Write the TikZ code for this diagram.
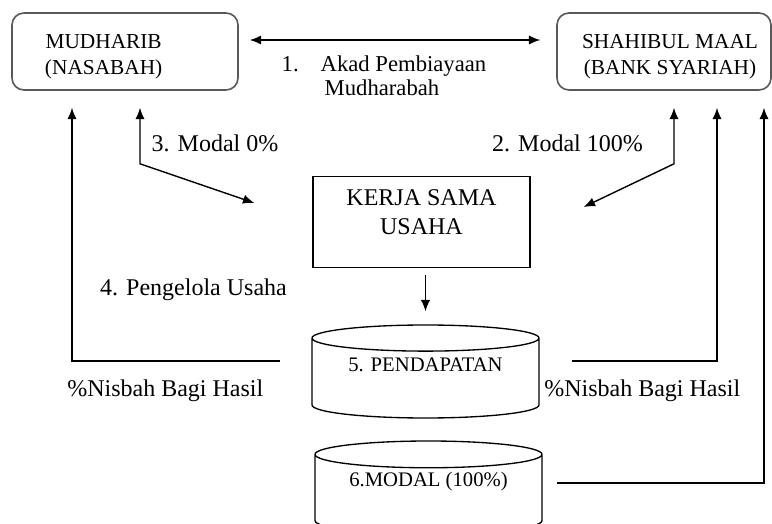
\documentclass[tikz,border=0pt]{standalone}
\usepackage{fontspec}
\setmainfont{Liberation Serif}
\usetikzlibrary{arrows.meta,calc,shapes.geometric,positioning}

\begin{document}
\begin{tikzpicture}[
      x=0.75pt, y=-0.75pt,
      >={Latex[length=8.5pt,width=7pt]},
      party/.style={
        draw=black!65,
        line width=1.2pt,
        rounded corners=9pt,
        minimum height=57.75pt
      },
      usaha/.style={
        draw,
        line width=1pt,
        minimum width=162.75pt,
        minimum height=68.25pt
      },
      dbase/.style={
        draw,
        cylinder,
        shape border rotate=90,
        aspect=0.16,
        line width=1pt,
        minimum width=170.25pt,
        minimum height=69.75pt,
        anchor=shape center,
        font=\fontsize{15.5}{19}\selectfont
      },
      flow/.style={
        ->,
        line width=1.05pt
      },
      lbl/.style={font=\fontsize{18}{22}\selectfont},
      boxtext/.style={font=\fontsize{16}{20}\selectfont, align=center}
    ]
    \useasboundingbox (0,0) rectangle (772,524);
    \clip (0,0) rectangle (772,524);
    %% Parties
    \node[party, minimum width=169.5pt,
      label={[boxtext, xshift=-16pt, yshift=-4pt]center:MUDHARIB\\(NASABAH)}] (mudharib) at (125,51.5) {};
    \node[party, minimum width=160.5pt,
      label={[boxtext, xshift=4.5pt, yshift=-4pt]center:SHAHIBUL MAAL\\(BANK SYARIAH)}] (shahibul) at (664,51.5) {};
    %% Business
    \node[usaha,
      label={[lbl, align=center, yshift=7.5pt]center:KERJA SAMA\\USAHA}] (usaha) at (421.5,222) {};
    \node[dbase] (pendapatan) at (425.5,371.5) {\raisebox{10.5pt}[11pt][3pt]{5. PENDAPATAN}};
    \node[dbase] (modal) at (428.5,487.5) {\raisebox{11.25pt}[11pt][3pt]{6.MODAL (100\%)}};

    %% Akad
    \draw[<->, line width=1.05pt] ($(mudharib.east)+(11,-11.5)$) -- ($(shahibul.west)+(-16,-11.5)$);
    \node[lbl, font=\fontsize{17}{18}\selectfont, align=left, anchor=west] (akad) at (277,76)
      {\makebox[29.25pt][l]{1.}Akad Pembiayaan\\\hspace*{32.25pt}Mudharabah};

    %% Modal
    \draw[<->, line width=1.05pt] ($(mudharib.south)+(15,17)$) -- ++(0,56) -- ($(usaha.west)+(-58,-19)$);
    \draw[<->, line width=1.05pt] ($(shahibul.south)+(10,17)$) -- ++(0,56) -- ($(usaha.east)+(53,-15)$);
    \node[lbl] (modal-nol) at (215,143) {3. Modal 0\%};
    \node[lbl] (modal-penuh) at (567.5,143) {2. Modal 100\%};

    %% Pengelola
    \draw[flow, shorten <=5.5pt, shorten >=9.75pt] (usaha.south -| pendapatan.north) -- (pendapatan.north);
    \node[lbl] (pengelola) at (193.5,290) {4. Pengelola Usaha};

    %% Bagi hasil
    \draw[flow] ($(pendapatan.shape center)+(-145.5,-10.5)$) -| ($(mudharib.south)+(-53,17)$);
    \draw[flow] ($(pendapatan.shape center)+(146.5,-10.5)$) -| ($(shahibul.south)+(53,17)$);
    \draw[flow] ($(modal.shape center)+(128.5,-4.5)$) -| ($(shahibul.south)+(100,17)$);
    \node[lbl, anchor=east] (nisbah-kiri) at (268,391) {\%Nisbah Bagi Hasil};
    \node[lbl, anchor=east] (nisbah-kanan) at (745,391) {\%Nisbah Bagi Hasil};
  \end{tikzpicture}
\end{document}
